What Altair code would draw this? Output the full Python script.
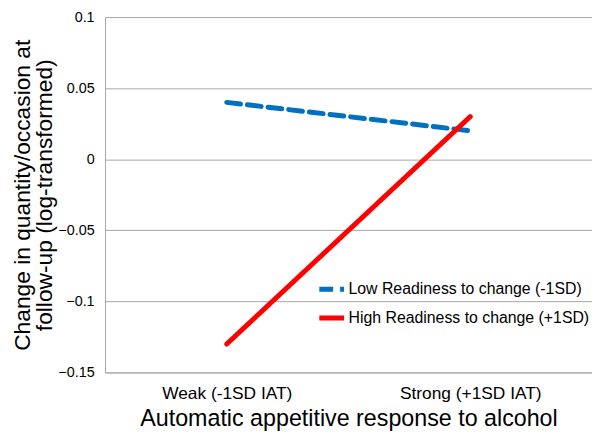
import altair as alt
import pandas as pd

categories = ["Weak (-1SD IAT)", "Strong (+1SD IAT)"]
series_names = ["Low Readiness to change (-1SD)", "High Readiness to change (+1SD)"]
low_values = [0.04, 0.02]
high_values = [-0.13, 0.03]
y_ticks = [-0.15, -0.1, -0.05, 0, 0.05, 0.1]

rows = []
for c, v in zip(categories, low_values):
    rows.append({"iat": c, "series": series_names[0], "value": v})
for c, v in zip(categories, high_values):
    rows.append({"iat": c, "series": series_names[1], "value": v})
df = pd.DataFrame(rows)

font = "Liberation Sans"

legend_cfg = dict(title=None, orient="none", legendX=214, legendY=260,
                  symbolType="stroke", symbolSize=625, symbolStrokeWidth=5,
                  labelFontSize=16, labelColor="#000000", rowPadding=4,
                  labelOffset=2, padding=0, labelLimit=400)

chart = alt.Chart(df).mark_line(strokeWidth=5, strokeCap="round").encode(
    x=alt.X("iat:N", sort=categories, scale=alt.Scale(type="point", padding=0.5),
            axis=alt.Axis(title="Automatic appetitive response to alcohol", labelAngle=0,
                          labelFontSize=17.5, labelPadding=12, ticks=False, grid=False,
                          titleFontSize=23.5, titlePadding=5, domainColor="#a6a6a6",
                          labelColor="#000000", titleColor="#000000")),
    y=alt.Y("value:Q", scale=alt.Scale(domain=[-0.15, 0.1], nice=False),
            axis=alt.Axis(values=y_ticks, title=["Change in quantity/occasion at", "follow-up (log-transformed)"],
                          labelFontSize=14.5, labelPadding=11, ticks=False, grid=True,
                          labelExpr="datum.value == 0 ? '0' : format(datum.value, '')",
                          titleFontSize=23, titleLineHeight=23, titlePadding=1,
                          gridColor="#a6a6a6", domainColor="#a6a6a6",
                          labelColor="#000000", titleColor="#000000")),
    color=alt.Color("series:N", sort=series_names,
                    scale=alt.Scale(domain=series_names, range=["#0070C0", "#FF0000"]),
                    legend=alt.Legend(**legend_cfg)),
    strokeDash=alt.StrokeDash("series:N", sort=series_names,
                              scale=alt.Scale(domain=series_names, range=[[14, 7], [1, 0]]),
                              legend=alt.Legend(**legend_cfg)),
).properties(
    width=492, height=359,
    autosize=alt.AutoSizeParams(type="none"),
    padding={"left": 98, "top": 7, "right": 0, "bottom": 60},
).configure(font=font).configure_view(stroke=None).configure_axis(labelFont=font, titleFont=font, titleFontWeight="normal")

chart.save("out.html", embed_options={"renderer": "svg", "actions": False})
